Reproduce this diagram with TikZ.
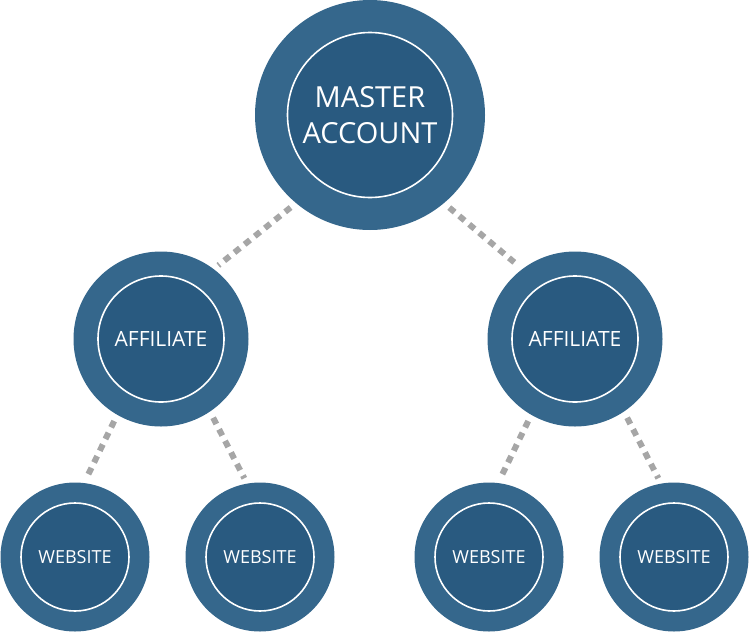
\documentclass[tikz,border=0pt]{standalone}
\usepackage{fontspec}
\setmainfont{Open Sans}
\usepackage{tikz}

\definecolor{ringblue}{HTML}{35678C}
\definecolor{coreblue}{HTML}{295A80}
\definecolor{linkgray}{HTML}{A6A6A6}

\tikzset{
  ring/.style={circle, fill=ringblue, inner sep=0pt, outer sep=0pt},
  core/.style={circle, fill=coreblue, draw=white, line width=1.6pt, inner sep=0pt,
               text=white, align=center},
  link/.style={linkgray, line width=6pt, dash pattern=on 7pt off 6pt,
               shorten <=7pt, shorten >=6pt}
}

\begin{document}
\begin{tikzpicture}[x=1pt, y=-1pt]
            \useasboundingbox (0,0) rectangle (749,632);

            % Master account
            \node[ring, minimum size=230pt] (master) at (370,115) {};
            \node[core, minimum size=165pt, font=\fontsize{29}{36}\selectfont] (mastertext) at (master) {MASTER\\ACCOUNT};

            % Affiliates
            \foreach \name/\x in {affleft/161,affright/575} {
                \node[ring, minimum size=175pt] (\name) at (\x,339) {};
                \node[core, minimum size=126pt, font=\fontsize{21}{24}\selectfont] (\name text) at (\name) {AFFILIATE};
            }

            % Websites
            \foreach \name/\x in {webA/75,webB/260,webC/489,webD/674} {
                \node[ring, minimum size=149pt] (\name) at (\x,557) {};
                \node[core, minimum size=108pt, font=\fontsize{18}{20}\selectfont] (\name text) at (\name) {WEBSITE};
            }

            % Links
            \draw[link] (master.230) -- (affleft.53);
            \draw[link] (master.310) -- (affright.127);
            \draw[link] (affleft.240) -- (webA.83);
            \draw[link] (affleft.304) -- (webB.100);
            \draw[link] (affright.240) -- (webC.83);
            \draw[link] (affright.304) -- (webD.100);
        \end{tikzpicture}
\end{document}
